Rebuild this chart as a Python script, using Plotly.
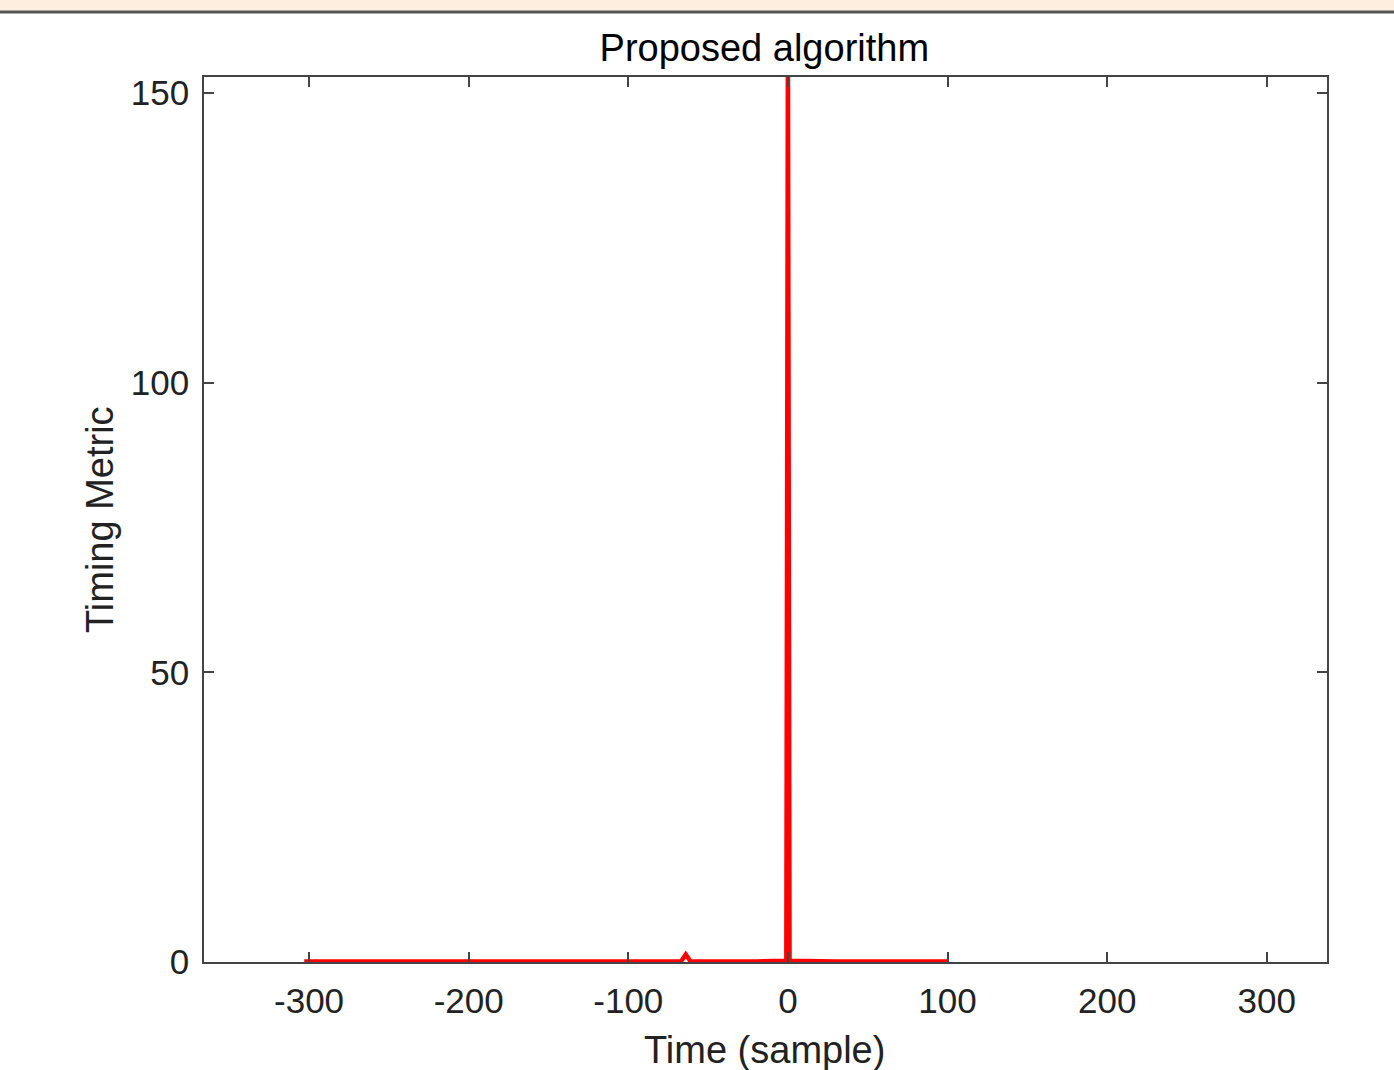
import plotly.graph_objects as go

# Data
time_samples = [-303, -100, -67, -64, -61, -20, -1, 0, 1, 30, 64, 100]
timing_metric = [0.1, 0.1, 0.1, 1.3, 0.1, 0.1, 0.2, 160, 0.2, 0.1, 0.15, 0.1]

x_ticks = [-300, -200, -100, 0, 100, 200, 300]
x_tick_labels = ["-300", "-200", "-100", "0", "100", "200", "300"]
y_ticks = [0, 50, 100, 150]
y_tick_labels = ["0", "50", "100", "150"]

FONT = "Liberation Sans, Arial, sans-serif"
AXC = "#444444"
TXT = "#222222"

PW, PH = 1123.0, 885.0

fig = go.Figure()
fig.add_trace(go.Scatter(x=time_samples, y=timing_metric, mode="lines",
                         line=dict(color="#ff0000", width=4.5), showlegend=False))

fig.update_layout(
    width=1394, height=1070,
    margin=dict(l=204, r=67, t=77, b=108, autoexpand=False),
    paper_bgcolor="white", plot_bgcolor="white",
    font=dict(family=FONT, color=TXT, size=35),
    title=dict(text="Proposed algorithm", x=0.5483, xanchor="center",
               y=1 - 48 / 1070, yanchor="middle",
               font=dict(family=FONT, size=38, color="black")),
    xaxis=dict(range=[-365.8, 337.7], tickvals=x_ticks, ticktext=x_tick_labels,
               ticks="inside", ticklen=10, tickcolor=AXC, tickwidth=1.5,
               showline=True, linecolor=AXC, linewidth=1.5, mirror="ticks",
               showgrid=False, zeroline=False, ticklabelstandoff=7,
               automargin=False, tickfont=dict(size=35, color=TXT)),
    yaxis=dict(range=[0, 152.8], tickvals=y_ticks, ticktext=y_tick_labels,
               ticks="inside", ticklen=10, tickcolor=AXC, tickwidth=1.5,
               showline=True, linecolor=AXC, linewidth=1.5, mirror="ticks",
               showgrid=False, zeroline=False, ticklabelstandoff=6,
               automargin=False, tickfont=dict(size=35, color=TXT)),
)

fig.add_annotation(text="Time (sample)", xref="paper", yref="paper",
                   x=(764 - 204) / PW, y=-88 / PH, xanchor="center",
                   yanchor="middle", showarrow=False,
                   font=dict(family=FONT, size=38, color=TXT))
fig.add_annotation(text="Timing Metric", xref="paper", yref="paper",
                   x=-104 / PW, y=(962 - 520) / PH, xanchor="center",
                   yanchor="middle", textangle=-90, showarrow=False,
                   font=dict(family=FONT, size=38, color=TXT))

fig.add_shape(type="rect", xref="paper", yref="paper", x0=-0.25, x1=1.1,
              y0=1 + 66 / PH, y1=1 + 80 / PH, fillcolor="#fdeee0",
              line=dict(width=0), layer="below")
fig.add_shape(type="line", xref="paper", yref="paper", x0=-0.25, x1=1.1,
              y0=1 + 65 / PH, y1=1 + 65 / PH,
              line=dict(color="#555555", width=3))

fig.write_html("out.html")
